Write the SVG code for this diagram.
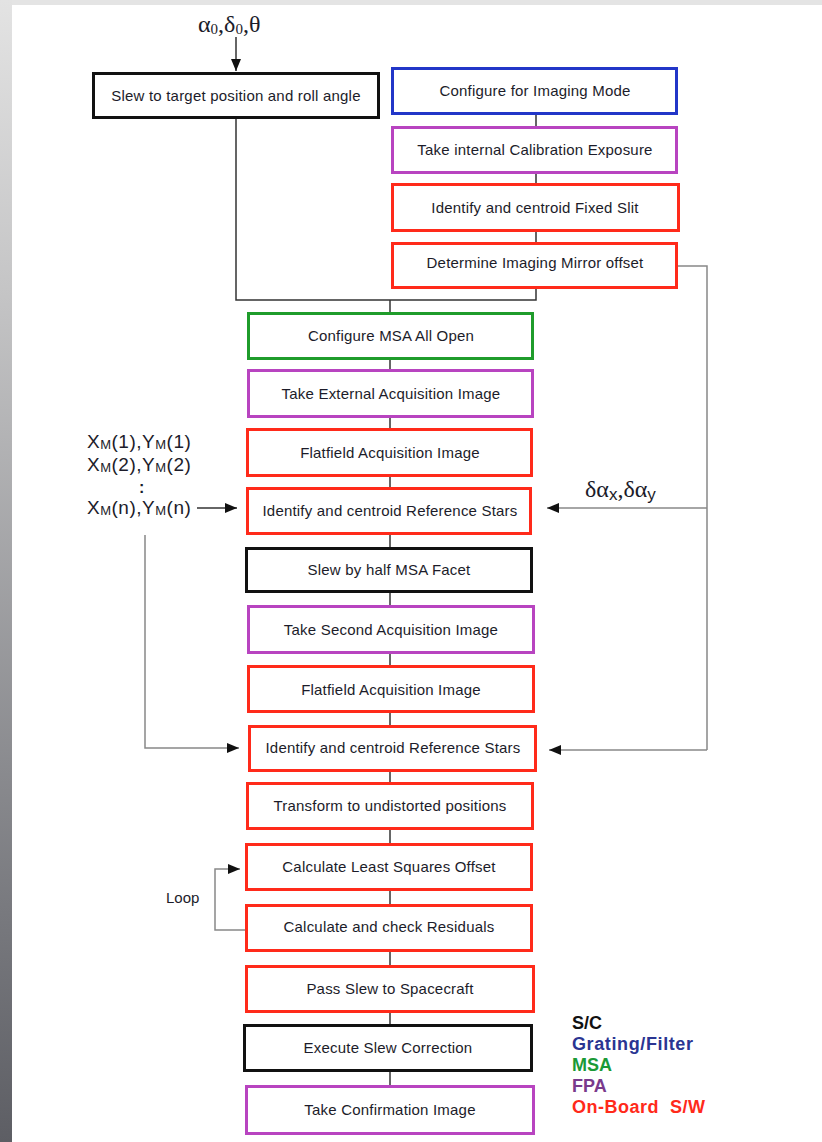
<svg xmlns="http://www.w3.org/2000/svg" width="822" height="1142" viewBox="0 0 822 1142">
<defs>
<linearGradient id="side" x1="0" y1="0" x2="0" y2="1">
<stop offset="0" stop-color="#e3e3e3"/>
<stop offset="0.26" stop-color="#c4c4c5"/>
<stop offset="0.8" stop-color="#78797e"/>
<stop offset="1" stop-color="#5d5e64"/>
</linearGradient>
<marker id="ah" markerWidth="12" markerHeight="10" refX="12" refY="5" orient="auto" markerUnits="userSpaceOnUse">
<path d="M0,0 L12,5 L0,10 Z" fill="#111"/>
</marker>
<style>
.box{fill:#fff;stroke-width:3}
.k{stroke:#111}.b{stroke:#2236c8}.p{stroke:#b844c0}.r{stroke:#ff2a1a}.g{stroke:#1f9c2b}
.t{font-family:"Liberation Sans",Arial,sans-serif;font-size:15px;fill:#1c1c2a;text-anchor:middle;letter-spacing:0.2px}
.ln{fill:none;stroke:#333;stroke-width:1.5}
.fb{fill:none;stroke:#888;stroke-width:1.5}
.lg{font-family:"Liberation Sans",Arial,sans-serif;font-size:18px;font-weight:bold}
.sym{font-family:"Liberation Serif","Times New Roman",serif;font-size:24px;fill:#1c1c2a}
.xm{font-family:"Liberation Sans",Arial,sans-serif;font-size:19px;fill:#1c1c2a;letter-spacing:0.5px}
</style>
</defs>
<rect x="0" y="0" width="822" height="1142" fill="#fff"/>
<rect x="0" y="0" width="822" height="5" fill="#e4e4e4"/>
<rect x="0" y="0" width="12" height="1142" fill="url(#side)"/>

<g id="connectors">
<line class="ln" x1="236" y1="37" x2="236" y2="71" marker-end="url(#ah)"/>
<polyline class="ln" points="236,119 236,300 536,300 536,115"/>
<line class="ln" x1="390" y1="300" x2="390" y2="1085"/>
<polyline class="fb" points="678,266 707,266 707,750"/>
<line class="fb" x1="707" y1="508" x2="547" y2="508" marker-end="url(#ah)"/>
<line class="fb" x1="707" y1="750" x2="549" y2="750" marker-end="url(#ah)"/>
<line class="ln" x1="197" y1="508" x2="237" y2="508" marker-end="url(#ah)"/>
<polyline class="fb" points="145,535 145,748 239,748" marker-end="url(#ah)"/>
<polyline class="fb" points="245,930 215,930 215,869 240,869" marker-end="url(#ah)"/>
</g>

<g id="slew-target"><rect class="box k" x="93.5" y="73.5" width="285" height="44"/><text class="t" x="236" y="101">Slew to target position and roll angle</text></g>
<g id="config-imaging"><rect class="box b" x="392.5" y="68.5" width="284" height="45"/><text class="t" x="535" y="96">Configure for Imaging Mode</text></g>
<g id="internal-cal"><rect class="box p" x="392.5" y="127.5" width="284" height="45"/><text class="t" x="535" y="155">Take internal Calibration Exposure</text></g>
<g id="fixed-slit"><rect class="box r" x="392.5" y="184.5" width="286" height="46"/><text class="t" x="535" y="213">Identify and centroid Fixed Slit</text></g>
<g id="mirror-offset"><rect class="box r" x="392.5" y="243.5" width="284" height="44"/><text class="t" x="535" y="268">Determine Imaging Mirror offset</text></g>

<g id="msa-open"><rect class="box g" x="248.5" y="313.5" width="284" height="45"/><text class="t" x="391" y="341">Configure MSA All Open</text></g>
<g id="ext-acq"><rect class="box p" x="248.5" y="370.5" width="284" height="46"/><text class="t" x="391" y="399">Take External Acquisition Image</text></g>
<g id="flat1"><rect class="box r" x="247.5" y="429.5" width="284" height="46"/><text class="t" x="390" y="458">Flatfield Acquisition Image</text></g>
<g id="ref1"><rect class="box r" x="247.5" y="488.5" width="283" height="45"/><text class="t" x="390" y="516">Identify and centroid Reference Stars</text></g>
<g id="half-facet"><rect class="box k" x="246.5" y="548.5" width="285" height="43"/><text class="t" x="389" y="575">Slew by half MSA Facet</text></g>
<g id="second-acq"><rect class="box p" x="248.5" y="606.5" width="285" height="46"/><text class="t" x="391" y="635">Take Second Acquisition Image</text></g>
<g id="flat2"><rect class="box r" x="248.5" y="666.5" width="285" height="45"/><text class="t" x="391" y="695">Flatfield Acquisition Image</text></g>
<g id="ref2"><rect class="box r" x="249.5" y="726.5" width="286" height="44"/><text class="t" x="393" y="753">Identify and centroid Reference Stars</text></g>
<g id="transform"><rect class="box r" x="247.5" y="783.5" width="285" height="45"/><text class="t" x="390" y="811">Transform to undistorted positions</text></g>
<g id="lsq"><rect class="box r" x="246.5" y="844.5" width="285" height="45"/><text class="t" x="389" y="872">Calculate Least Squares Offset</text></g>
<g id="residuals"><rect class="box r" x="246.5" y="905.5" width="285" height="45"/><text class="t" x="389" y="932">Calculate and check Residuals</text></g>
<g id="pass-slew"><rect class="box r" x="246.5" y="966.5" width="287" height="45"/><text class="t" x="390" y="994">Pass Slew to Spacecraft</text></g>
<g id="exec-slew"><rect class="box k" x="244.5" y="1025.5" width="287" height="45"/><text class="t" x="388" y="1053">Execute Slew Correction</text></g>
<g id="confirm"><rect class="box p" x="246.5" y="1086.5" width="287" height="47"/><text class="t" x="390" y="1115">Take Confirmation Image</text></g>

<g id="labels">
<text class="sym" x="198" y="32">α<tspan font-size="15" dy="2">0</tspan><tspan dy="-2">,δ</tspan><tspan font-size="15" dy="2">0</tspan><tspan dy="-2">,θ</tspan></text>
<text class="sym" x="585" y="497">δα<tspan font-family="Liberation Sans, Arial, sans-serif" font-size="17" dy="3">x</tspan><tspan dy="-3">,δα</tspan><tspan font-family="Liberation Sans, Arial, sans-serif" font-size="17" dy="3">y</tspan></text>
<text class="xm" x="87" y="448">X<tspan font-size="13" dy="1">M</tspan><tspan dy="-1">(1),Y</tspan><tspan font-size="13" dy="1">M</tspan><tspan dy="-1">(1)</tspan></text>
<text class="xm" x="87" y="471">X<tspan font-size="13" dy="1">M</tspan><tspan dy="-1">(2),Y</tspan><tspan font-size="13" dy="1">M</tspan><tspan dy="-1">(2)</tspan></text>
<text x="139" y="493" font-family="Liberation Sans, Arial, sans-serif" font-size="16" font-weight="bold" fill="#1c1c2a">:</text>
<text class="xm" x="87" y="514">X<tspan font-size="13" dy="1">M</tspan><tspan dy="-1">(n),Y</tspan><tspan font-size="13" dy="1">M</tspan><tspan dy="-1">(n)</tspan></text>
<text x="166" y="903" font-family="Liberation Sans, Arial, sans-serif" font-size="15" fill="#1c1c2a">Loop</text>
</g>

<g id="legend">
<text class="lg" x="572" y="1029" fill="#111">S/C</text>
<text class="lg" x="572" y="1050" fill="#2a3592" textLength="121">Grating/Filter</text>
<text class="lg" x="572" y="1071" fill="#1a9a36">MSA</text>
<text class="lg" x="572" y="1092" fill="#7a3a8c">FPA</text>
<text class="lg" x="572" y="1113" fill="#ff2a1a" xml:space="preserve" textLength="133">On-Board  S/W</text>
</g>
</svg>
